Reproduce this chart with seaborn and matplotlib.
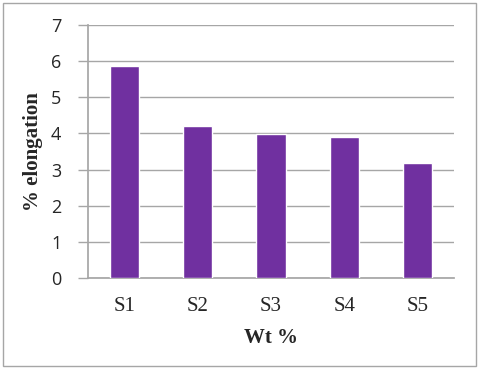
import pandas as pd
import matplotlib.pyplot as plt
import seaborn as sns
from matplotlib.patches import Rectangle

# data
samples = ["S1", "S2", "S3", "S4", "S5"]
elongation = [5.86, 4.2, 3.99, 3.9, 3.18]

df = pd.DataFrame({"Sample": samples, "Elongation": elongation})

sns.set_theme(style="white")

fig = plt.figure(figsize=(4.8, 3.71), dpi=100)
ax = fig.add_axes([0.183, 0.2507, 0.763, 0.682])

sns.barplot(data=df, x="Sample", y="Elongation", color="#7030A0",
            saturation=1, width=0.4, ax=ax, zorder=3)

ax.set_xlim(-0.5, 4.5)
ax.set_ylim(0, 7)
ax.set_yticks(range(0, 8))
ax.yaxis.grid(True, color="#A6A6A6", linewidth=1, zorder=0)
ax.xaxis.grid(False)

for side in ["top", "right"]:
    ax.spines[side].set_visible(False)
ax.spines["left"].set_color("#A6A6A6")
ax.spines["bottom"].set_color("#A6A6A6")

ax.tick_params(axis="y", which="both", left=True, length=7, width=1,
               color="#A6A6A6", pad=12, labelsize=13)
ax.tick_params(axis="x", bottom=False, pad=8)
for lab in ax.get_yticklabels():
    lab.set_fontfamily("Open Sans")
for lab in ax.get_xticklabels():
    lab.set_fontfamily("Liberation Serif")
    lab.set_fontsize(15)

ax.set_xlabel("Wt %", fontfamily="Liberation Serif", fontsize=15,
              fontweight="bold", labelpad=8)
ax.set_ylabel("% elongation", fontfamily="Liberation Serif", fontsize=15,
              fontweight="bold", labelpad=6)

# outer chart border
fig.patches.append(Rectangle((0.006, 0.013), 0.986, 0.978, transform=fig.transFigure,
                             fill=False, edgecolor="#A6A6A6", linewidth=1))

fig.savefig("out.png", dpi=100)
